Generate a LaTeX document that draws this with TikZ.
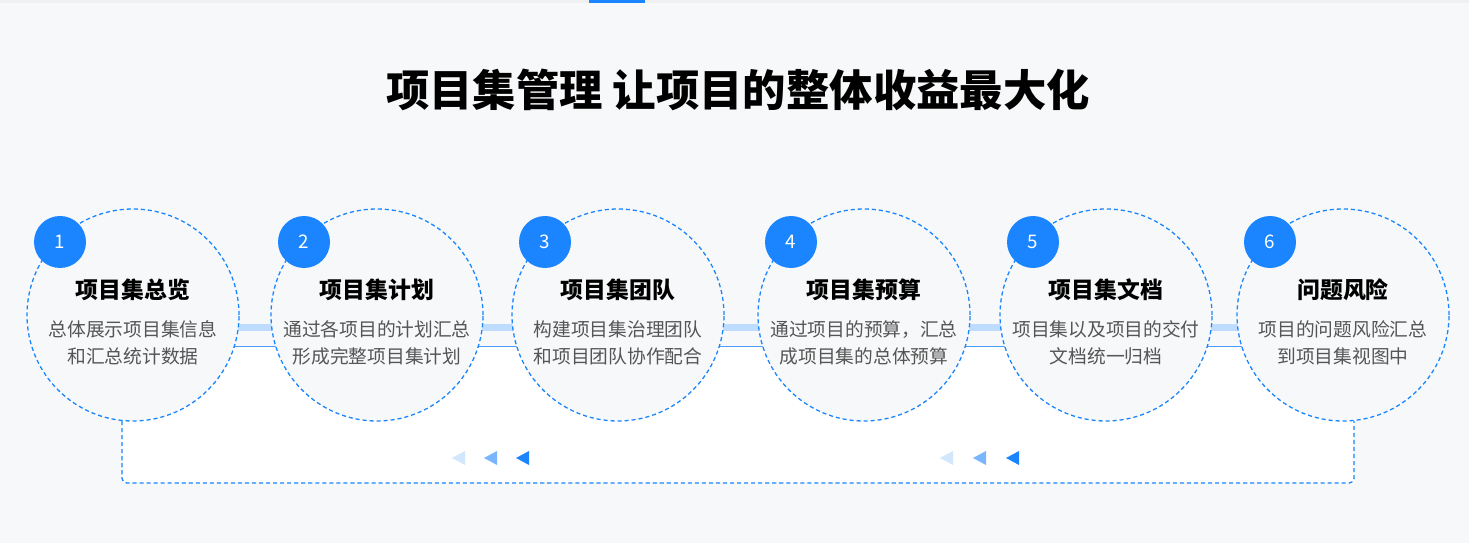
\documentclass[tikz,border=0pt]{standalone}
\usepackage{fontspec}
\setmainfont{Noto Sans CJK SC}
\usepackage{xcolor}
\definecolor{bgray}{RGB}{246,248,249}
\definecolor{mainblue}{RGB}{26,133,255}
\definecolor{lightblue}{RGB}{190,220,255}
\definecolor{midblue}{RGB}{120,182,255}
\definecolor{paleblue}{RGB}{210,230,252}
\definecolor{bodytext}{RGB}{85,85,85}
\usetikzlibrary{calc,positioning}

\begin{document}
\begin{tikzpicture}[x=0.03cm,y=-0.03cm,
    stepcircle/.style={circle,draw=mainblue,dash pattern=on 3.5pt off 2.5pt,fill=bgray,line width=1.1pt,minimum size=6.36cm,inner sep=0pt},
    badge/.style={circle,fill=mainblue,text=white,minimum size=1.56cm,inner sep=0pt,font=\fontsize{16}{16}\selectfont},
    headtext/.style={font=\fontsize{19.5}{20}\selectfont\bfseries,text=black},
    bodytext/.style={font=\fontsize{16}{23}\selectfont,text=bodytext,align=center},
    tri/.style={fill=#1,draw=none}]
    % background
    \fill[bgray] (0,0) rectangle (1469,543);
    \useasboundingbox (0,0) rectangle (1469,543);
    \fill[black!6] (0,0) rectangle (1469,3);
    \fill[mainblue] (589,0) rectangle (645,3);
    \fill[white] (122,346) rectangle (1354,483);
    % title
    \node[font=\fontsize{37}{40}\selectfont\bfseries] (title) at (738,90) {项目集管理 让项目的整体收益最大化};
    % bottom loop
    \draw[mainblue,dash pattern=on 3.5pt off 2.5pt,line width=1.1pt,rounded corners=4] (122,421) -- (122,483) -- (1354,483) -- (1354,421);
    \foreach \x/\c in {458/paleblue,490/midblue,522/mainblue,946/paleblue,979/midblue,1012/mainblue}
        \fill[\c] (\x-6,458) -- (\x+7,451) -- (\x+7,465) -- cycle;
    % connectors
    \foreach \a/\b in {133/377,377/618,618/864,864/1106,1106/1343} {
        \fill[lightblue] (\a+100,324) rectangle (\b-100,331);
        \draw[mainblue!80] (\a+100,346) -- (\b-100,346);
    }
    % steps
    \foreach \i/\x/\h/\l/\m in {
        1/133/项目集总览/总体展示项目集信息/和汇总统计数据,
        2/377/项目集计划/通过各项目的计划汇总/形成完整项目集计划,
        3/618/项目集团队/构建项目集治理团队/和项目团队协作配合,
        4/864/项目集预算/通过项目的预算，汇总/成项目集的总体预算,
        5/1106/项目集文档/项目集以及项目的交付/文档统一归档,
        6/1343/问题风险/项目的问题风险汇总/到项目集视图中} {
        \node[stepcircle] (step\i) at (\x,315) {};
        \node[badge] (num\i) at (\x-73,242) {\i};
        \node[headtext] (head\i) at (\x,290) {\h};
        \node[bodytext] (body\i) at (\x,343) {\l\\\m};
    }
\end{tikzpicture}
\end{document}
